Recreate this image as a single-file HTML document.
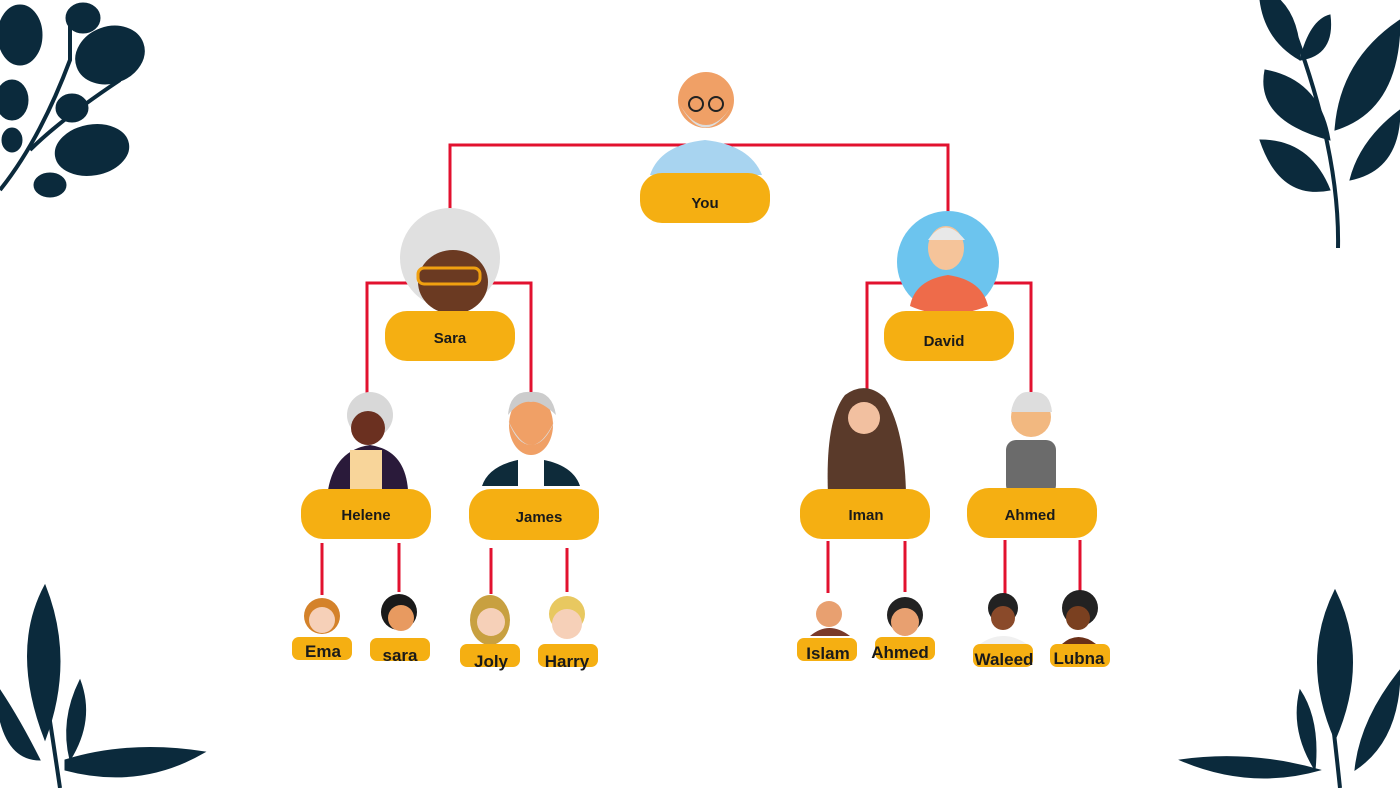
<!DOCTYPE html>
<html><head><meta charset="utf-8"><style>
html,body{margin:0;padding:0;background:#fff;}
svg{display:block}
text{font-family:"Liberation Sans",sans-serif;font-weight:bold;fill:#1a1a1a;text-anchor:middle}
</style></head><body>
<svg width="1400" height="788" viewBox="0 0 1400 788">
<!-- leaves -->
<g fill="#0b2a3c" stroke="#0b2a3c">
 <path d="M0 190 Q40 140 70 60 L70 10" fill="none" stroke-width="4"/>
 <path d="M30 150 Q60 120 120 80" fill="none" stroke-width="4"/>
 <ellipse cx="110" cy="55" rx="35" ry="28" transform="rotate(-20 110 55)"/>
 <ellipse cx="92" cy="150" rx="37" ry="25" transform="rotate(-10 92 150)"/>
 <ellipse cx="20" cy="35" rx="22" ry="30"/>
 <ellipse cx="83" cy="18" rx="17" ry="15"/>
 <ellipse cx="12" cy="100" rx="16" ry="20"/>
 <ellipse cx="72" cy="108" rx="16" ry="14"/>
 <ellipse cx="12" cy="140" rx="10" ry="12"/>
 <ellipse cx="50" cy="185" rx="16" ry="12"/>
 <path d="M1338 248 Q1340 150 1290 20" fill="none" stroke-width="4"/>
 <path d="M1265 70 Q1255 120 1330 140 Q1320 80 1265 70Z"/>
 <path d="M1400 20 Q1340 60 1335 130 Q1400 110 1400 20Z"/>
 <path d="M1260 140 Q1280 200 1330 190 Q1310 140 1260 140Z"/>
 <path d="M1400 110 Q1360 140 1350 180 Q1400 170 1400 110Z"/>
 <path d="M1260 0 Q1265 40 1300 60 Q1300 20 1280 0Z"/>
 <path d="M1300 60 Q1310 20 1330 15 Q1335 55 1300 60Z"/>
 <path d="M60 788 Q50 720 45 690" fill="none" stroke-width="4"/>
 <path d="M45 585 Q10 650 45 740 Q75 660 45 585Z"/>
 <path d="M0 690 Q20 720 40 760 Q10 760 0 720Z"/>
 <path d="M65 760 Q130 740 205 752 Q140 790 65 770Z"/>
 <path d="M80 680 Q60 720 70 760 Q95 720 80 680Z"/>
 <path d="M1340 788 Q1335 740 1330 700" fill="none" stroke-width="4"/>
 <path d="M1335 590 Q1300 660 1335 740 Q1370 660 1335 590Z"/>
 <path d="M1180 760 Q1250 750 1320 770 Q1250 790 1180 760Z"/>
 <path d="M1400 670 Q1360 720 1355 770 Q1400 740 1400 670Z"/>
 <path d="M1300 690 Q1290 730 1315 770 Q1320 720 1300 690Z"/>
</g>
<!-- connectors -->
<g stroke="#e2112f" stroke-width="3" fill="none">
 <path d="M450 212 V145 H948 V214"/>
 <path d="M367 395 V283 H531 V392"/>
 <path d="M867 392 V283 H1031 V392"/>
 <path d="M322 543V595M399 543V592M491 548V594M567 548V592M828 541V593M905 541V592M1005 540V594M1080 540V594"/>
</g>
<!-- big avatars -->
<g>
 <!-- You -->
 <path d="M650 175 Q660 145 705 140 Q750 145 762 175Z" fill="#a8d4f0"/>
 <circle cx="706" cy="100" r="28" fill="#f0a066"/>
 <path d="M680 105 Q705 150 732 105 Q720 125 706 125 Q692 125 680 105Z" fill="#ddd"/>
 <circle cx="696" cy="104" r="7" fill="none" stroke="#222" stroke-width="2"/><circle cx="716" cy="104" r="7" fill="none" stroke="#222" stroke-width="2"/>
 <!-- Sara -->
 <ellipse cx="450" cy="258" rx="50" ry="50" fill="#e0e0e0"/>
 <ellipse cx="453" cy="282" rx="35" ry="32" fill="#6b3a22"/>
 <rect x="418" y="268" width="62" height="16" rx="6" fill="none" stroke="#f0a010" stroke-width="3"/>
 <!-- David -->
 <circle cx="948" cy="262" r="51" fill="#6cc4ee"/>
 <path d="M910 306 Q915 280 948 275 Q982 280 988 306 Q968 314 948 314 Q928 314 910 306Z" fill="#ee6b4a"/>
 <ellipse cx="946" cy="248" rx="18" ry="22" fill="#f5c49a"/>
 <path d="M928 240 Q945 215 965 240" fill="#e8e8e8"/>
 <!-- Helene -->
 <path d="M328 490 Q335 450 370 445 Q405 450 408 490Z" fill="#2a1a3a"/>
 <rect x="350" y="450" width="32" height="40" fill="#f8d59a"/>
 <circle cx="370" cy="415" r="23" fill="#d8d8d8"/><circle cx="368" cy="428" r="17" fill="#6b3020"/>
 <!-- James -->
 <path d="M482 486 Q490 462 531 458 Q572 462 580 486Z" fill="#0e2b3a"/>
 <rect x="518" y="458" width="26" height="28" fill="#fff"/>
 <ellipse cx="531" cy="425" rx="22" ry="30" fill="#f0a066"/>
 <path d="M508 420 Q531 470 555 420 Q545 445 531 445 Q517 445 508 420Z" fill="#ddd"/>
 <path d="M508 415 Q510 390 531 392 Q552 390 556 415 Q540 400 531 402 Q520 400 508 415Z" fill="#ccc"/>
 <!-- Iman -->
 <path d="M828 495 Q825 420 845 395 Q866 380 885 398 Q905 430 906 495Z" fill="#5a3a2a"/>
 <circle cx="864" cy="418" r="16" fill="#f2c0a0"/>
 <!-- Ahmed -->
 <rect x="1006" y="440" width="50" height="55" rx="10" fill="#6b6b6b"/>
 <circle cx="1031" cy="417" r="20" fill="#f2b880"/>
 <path d="M1011 412 Q1015 390 1031 392 Q1050 390 1052 412" fill="#ddd"/>
</g>
<!-- small faces -->
<g>
 <circle cx="322" cy="616" r="18" fill="#d4822a"/><circle cx="322" cy="620" r="13" fill="#f6d0b8"/>
 <circle cx="399" cy="612" r="18" fill="#1a1a1a"/><circle cx="401" cy="618" r="13" fill="#e89a60"/>
 <ellipse cx="490" cy="620" rx="20" ry="25" fill="#c8a040"/><circle cx="491" cy="622" r="14" fill="#f6d0b8"/>
 <circle cx="567" cy="614" r="18" fill="#e8c860"/><circle cx="567" cy="624" r="15" fill="#f6d0b8"/>
 <circle cx="829" cy="614" r="13" fill="#e8a070"/><path d="M810 636 Q829 620 850 636Z" fill="#7a3a2a"/>
 <circle cx="905" cy="615" r="18" fill="#222"/><circle cx="905" cy="622" r="14" fill="#e8a070"/>
 <circle cx="1003" cy="608" r="15" fill="#222"/><circle cx="1003" cy="618" r="12" fill="#8a4a2a"/><path d="M980 644 Q1003 628 1027 644Z" fill="#f0f0f0"/>
 <circle cx="1080" cy="608" r="18" fill="#222"/><circle cx="1078" cy="618" r="12" fill="#7a4020"/><path d="M1062 644 Q1078 630 1096 644Z" fill="#6a3018"/>
</g>
<!-- boxes -->
<g fill="#f5af12">
 <rect x="640" y="173" width="130" height="50" rx="22"/>
 <rect x="385" y="311" width="130" height="50" rx="22"/>
 <rect x="884" y="311" width="130" height="50" rx="22"/>
 <rect x="301" y="489" width="130" height="50" rx="22"/>
 <rect x="469" y="489" width="130" height="51" rx="22"/>
 <rect x="800" y="489" width="130" height="50" rx="22"/>
 <rect x="967" y="488" width="130" height="50" rx="22"/>
 <rect x="292" y="637" width="60" height="23" rx="7"/>
 <rect x="370" y="638" width="60" height="23" rx="7"/>
 <rect x="460" y="644" width="60" height="23" rx="7"/>
 <rect x="538" y="644" width="60" height="23" rx="7"/>
 <rect x="797" y="638" width="60" height="23" rx="7"/>
 <rect x="875" y="637" width="60" height="23" rx="7"/>
 <rect x="973" y="644" width="60" height="23" rx="7"/>
 <rect x="1050" y="644" width="60" height="23" rx="7"/>
</g>
<g font-size="15">
 <text x="705" y="208">You</text>
 <text x="450" y="343">Sara</text>
 <text x="944" y="346">David</text>
 <text x="366" y="520">Helene</text>
 <text x="539" y="522">James</text>
 <text x="866" y="520">Iman</text>
 <text x="1030" y="520">Ahmed</text>
</g>
<g font-size="17">
 <text x="323" y="657">Ema</text>
 <text x="400" y="661">sara</text>
 <text x="491" y="667">Joly</text>
 <text x="567" y="667">Harry</text>
 <text x="828" y="659">Islam</text>
 <text x="900" y="658">Ahmed</text>
 <text x="1004" y="665">Waleed</text>
 <text x="1079" y="664">Lubna</text>
</g>
</svg>
</body></html>
